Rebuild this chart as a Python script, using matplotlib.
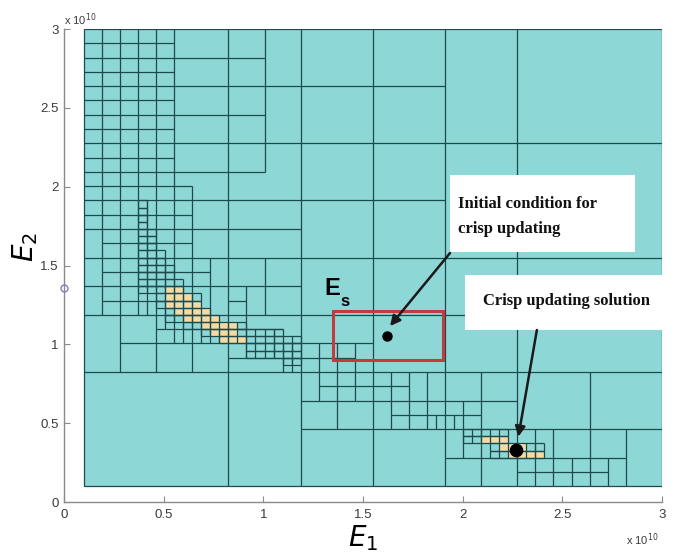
import numpy as np
import matplotlib.pyplot as plt
from matplotlib import patches

# paving of [0.1, 3] x [0.1, 3] (units of 1e10), grid index k -> lo + k * step
lo, hi = 0.1, 3.0
n_grid = 64
step = (hi - lo) / n_grid

# horizontal cell borders: (j, i_start, i_end)
h_segs = [(62, 0, 10), (60, 0, 20), (58, 0, 10), (56, 0, 40), (54, 0, 10), (52, 0, 20),
          (50, 0, 10), (48, 0, 64), (46, 0, 10), (44, 0, 20), (42, 0, 12), (40, 0, 40),
          (38, 0, 12), (36, 0, 24), (34, 2, 12), (32, 0, 64), (30, 2, 14), (28, 0, 24),
          (26, 2, 12), (26, 16, 18), (24, 0, 48), (22, 8, 22), (20, 4, 32), (18, 16, 30),
          (16, 0, 64), (14, 26, 36), (12, 24, 48), (10, 34, 44), (8, 24, 64), (4, 40, 60),
          (2, 48, 58)]

# vertical cell borders: (i, j_start, j_end)
v_segs = [(2, 24, 64), (4, 16, 64), (6, 24, 64), (7, 24, 40), (8, 16, 64), (9, 22, 32),
          (10, 20, 64), (11, 20, 28), (12, 16, 42), (13, 20, 24), (14, 20, 32), (15, 20, 22),
          (16, 0, 64), (18, 18, 28), (20, 24, 32), (20, 44, 64), (21, 18, 22), (22, 16, 20),
          (23, 16, 20), (24, 0, 64), (26, 12, 20), (28, 8, 20), (30, 12, 20), (32, 0, 64),
          (34, 8, 16), (36, 8, 16), (38, 8, 16), (39, 8, 10), (40, 0, 64), (41, 8, 10),
          (42, 4, 12), (44, 0, 16), (48, 0, 64), (50, 0, 8), (52, 0, 8), (54, 0, 4),
          (56, 0, 16), (58, 0, 4), (60, 0, 8)]

# rows of smallest cells: (j, i_start, i_end)
fine_rows = [(39, 6, 7), (38, 6, 7), (37, 6, 7), (36, 6, 7), (35, 6, 8), (34, 6, 8),
             (33, 6, 8), (32, 6, 9), (31, 6, 9), (30, 6, 10), (29, 6, 10), (28, 6, 11),
             (27, 6, 11), (26, 8, 13), (25, 8, 13), (24, 9, 14), (23, 9, 15), (22, 11, 18),
             (21, 13, 22), (20, 15, 24), (19, 18, 24), (18, 18, 24), (17, 22, 24),
             (7, 42, 47), (6, 42, 47), (5, 45, 51), (4, 45, 51)]

# rows of feasible (yellow) cells: (j, i_start, i_end)
yellow_rows = [(27, 9, 11), (26, 9, 12), (25, 9, 13), (24, 10, 14), (23, 11, 15),
               (22, 13, 17), (21, 14, 17), (20, 15, 18),
               (6, 44, 47), (5, 46, 49), (4, 47, 51)]

red_box = (1.35, 1.90, 0.90, 1.21)
start_pt = (1.62, 1.05)
solution_pt = (2.27, 0.33)
axis_mark = (0.0, 1.355)

ticks = [0, 0.5, 1, 1.5, 2, 2.5, 3]
tick_labels = ['0', '0.5', '1', '1.5', '2', '2.5', '3']

cyan = '#8ed7d7'
yellow = '#f5dba3'
line_c = '#1d4a4d'
lw = 0.9

def g(k):
    return lo + k * step

fig = plt.figure(figsize=(6.83, 5.57), dpi=100)
ax = fig.add_axes([0.0937, 0.0987, 0.8753, 0.8492])

ax.add_patch(patches.Rectangle((lo, lo), hi - lo, hi - lo, fc=cyan, ec=line_c, lw=lw, zorder=1))

for j, i0, i1 in yellow_rows:
    for i in range(i0, i1):
        ax.add_patch(patches.Rectangle((g(i), g(j)), step, step, fc=yellow, ec='none', zorder=2))

for j, i0, i1 in h_segs:
    ax.hlines(g(j), g(i0), g(i1), color=line_c, lw=lw, zorder=3)
for i, j0, j1 in v_segs:
    ax.vlines(g(i), g(j0), g(j1), color=line_c, lw=lw, zorder=3)
for j, i0, i1 in fine_rows:
    ax.hlines([g(j), g(j + 1)], g(i0), g(i1), color=line_c, lw=lw, zorder=3)
    ax.vlines([g(i) for i in range(i0, i1 + 1)], g(j), g(j + 1), color=line_c, lw=lw, zorder=3)

x0, x1, y0, y1 = red_box
ax.add_patch(patches.Rectangle((x0, y0), x1 - x0, y1 - y0, fc='none', ec='#c23b3d', lw=2.2, zorder=4))
ax.text(1.305, 1.313, 'E', fontsize=17, fontweight='bold', family='Liberation Sans', zorder=5)
ax.text(1.385, 1.243, 's', fontsize=12, fontweight='bold', family='Liberation Sans', zorder=5)

ax.plot(*start_pt, 'o', color='black', ms=6.5, zorder=6)
ax.plot(*solution_pt, 'o', color='black', ms=8.8, zorder=6)
ax.plot(*axis_mark, 'o', mfc='none', mec='#7b7fc0', ms=5, mew=1, clip_on=False, zorder=6)

# annotation boxes
ax.add_patch(patches.Rectangle((1.937, 1.585), 0.928, 0.489, fc='white', ec='none', zorder=7, clip_on=False))
ax.text(1.977, 1.864, 'Initial condition for', fontsize=12, fontweight='bold',
        family='Liberation Serif', color='#111111', zorder=8)
ax.text(1.977, 1.706, 'crisp updating', fontsize=12, fontweight='bold',
        family='Liberation Serif', color='#111111', zorder=8)
ax.add_patch(patches.Rectangle((2.012, 1.091), 1.1, 0.349, fc='white', ec='none', zorder=7, clip_on=False))
ax.text(2.102, 1.249, 'Crisp updating solution', fontsize=12, fontweight='bold',
        family='Liberation Serif', color='#111111', zorder=8, clip_on=False)

arrow = dict(arrowstyle='-|>', color='#1a1a1a', lw=1.8, mutation_scale=15, shrinkA=0, shrinkB=0)
ax.annotate('', xy=(1.636, 1.116), xytext=(1.937, 1.579), arrowprops=arrow, zorder=9)
ax.annotate('', xy=(2.28, 0.414), xytext=(2.373, 1.091), arrowprops=arrow, zorder=9)

ax.set_xlim(0, 3)
ax.set_ylim(0, 3)
ax.set_xticks(ticks)
ax.set_xticklabels(tick_labels)
ax.set_yticks(ticks)
ax.set_yticklabels(tick_labels)
for lab in ax.get_xticklabels() + ax.get_yticklabels():
    lab.set_family('Liberation Sans')
ax.tick_params(direction='in', length=4, color='#8a8a8a', labelcolor='#3a3a3a', labelsize=9.5)
ax.tick_params(axis='x', pad=5)
ax.tick_params(axis='y', pad=4)
for side in ['top', 'right']:
    ax.spines[side].set_visible(False)
for side in ['left', 'bottom']:
    ax.spines[side].set_color('#8a8a8a')
    ax.spines[side].set_linewidth(1.0)

ax.set_xlabel('$E_1$', fontsize=20)
ax.set_ylabel('$E_2$', fontsize=20)
ax.xaxis.set_label_coords(0.5, -0.045)
ax.yaxis.set_label_coords(-0.04, 0.54)

ax.text(0.0, 1.01, r'x 10$^{10}$', transform=ax.transAxes, fontsize=8, color='#3a3a3a',
        family='Liberation Sans')
ax.text(0.94, -0.09, r'x 10$^{10}$', transform=ax.transAxes, fontsize=8, color='#3a3a3a',
        family='Liberation Sans')

fig.savefig('out.png', dpi=100)
